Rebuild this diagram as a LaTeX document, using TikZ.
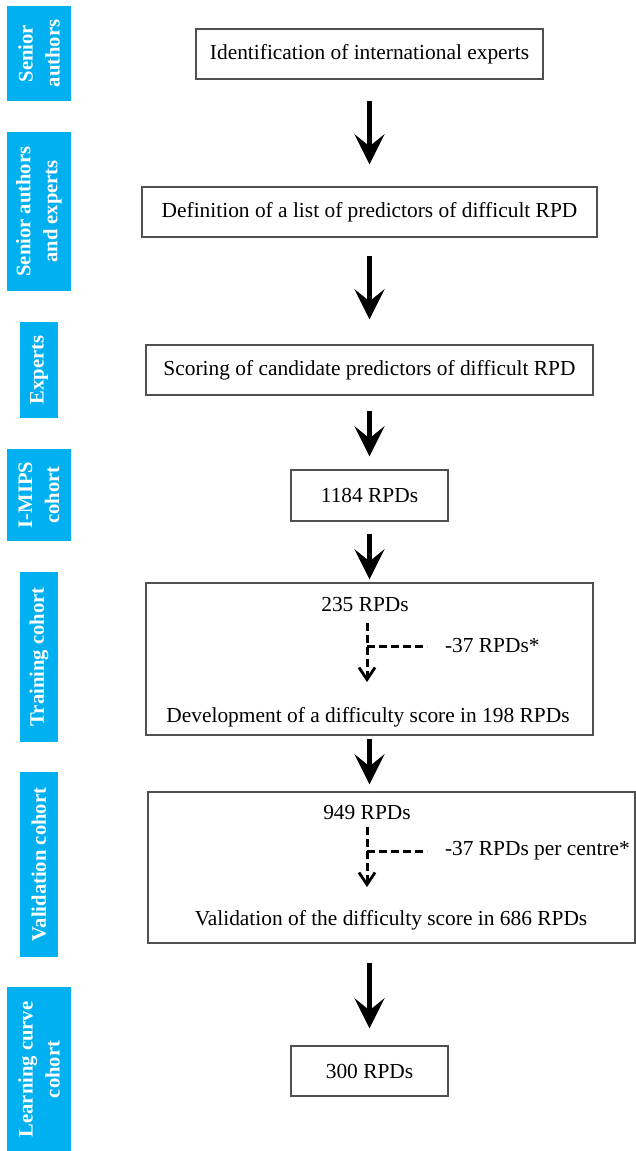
\documentclass[tikz,border=0pt]{standalone}
\usepackage{fontspec}
\setmainfont{Liberation Serif}
\usetikzlibrary{arrows.meta}

\definecolor{stageblue}{RGB}{0,176,240}
\definecolor{framegray}{RGB}{80,80,80}

\begin{document}
\begin{tikzpicture}[%
          x=0.5pt, y=-0.5pt,
          every node/.style={font=\fontsize{10.7}{13}\selectfont},
          stagebox/.style={draw=framegray, line width=0.7pt, inner sep=0pt},
          grouplabel/.style={fill=stageblue, text=white, rotate=90, inner sep=0pt,
                             align=center, font=\fontsize{10.3}{13.5}\selectfont\bfseries},
          widelabel/.style={grouplabel, minimum height=32pt},
          thinlabel/.style={grouplabel, minimum height=19pt},
          bigarrow/.style={line width=2.5pt, -{Stealth[length=15pt,width=15pt,inset=6pt]}},
          dashline/.style={line width=1.5pt, dash pattern=on 4pt off 2pt},
          dasharrow/.style={dashline, -{Straight Barb[length=6pt,width=8pt,line width=1.4pt]}}]

  \useasboundingbox (0,0) rectangle (636,1151);

  % stage labels on the left
  \node[widelabel, minimum width=47.5pt] (senior) at (39,53.5) {Senior\\authors};
  \node[widelabel, minimum width=79.5pt] (seniorexp) at (39,211.5) {Senior authors\\and experts};
  \node[thinlabel, minimum width=48pt] (experts) at (39,370) {Experts};
  \node[widelabel, minimum width=46pt] (imips) at (39,495) {I-MIPS\\cohort};
  \node[thinlabel, minimum width=85pt] (training) at (39,657) {Training cohort};
  \node[thinlabel, minimum width=92.5pt] (validation) at (39,864.5) {Validation cohort};
  \node[widelabel, minimum width=82.5pt] (learning) at (39,1069.5) {Learning curve\\cohort};

  % flow boxes
  \node[stagebox, minimum width=173.5pt, minimum height=25pt] (ident) at (369.5,54)
       {Identification of international experts};
  \node[stagebox, minimum width=227.5pt, minimum height=25pt] (defin) at (369.5,212)
       {Definition of a list of predictors of difficult RPD};
  \node[stagebox, minimum width=223.5pt, minimum height=25pt] (scoring) at (369.5,370)
       {Scoring of candidate predictors of difficult RPD};
  \node[stagebox, minimum width=78.5pt, minimum height=25.5pt] (all) at (369.5,495.5) {1184 RPDs};
  \node[stagebox, minimum width=223.5pt, minimum height=76pt] (train) at (369.5,659) {};
  \node[stagebox, minimum width=243.5pt, minimum height=75.5pt] (valid) at (391.5,867.5) {};
  \node[stagebox, minimum width=78.5pt, minimum height=25pt] (curve) at (369.5,1071) {300 RPDs};

  % inside the training box
  \node (train235) at (365,605) {235 RPDs};
  \node (traindev) at (368,717) {Development of a difficulty score in 198 RPDs};
  \node[anchor=west] (trainout) at (438,646) {-37 RPDs*};
  \coordinate (traintop) at (367,623);
  \coordinate (trainfork) at (367,646);
  \coordinate (traintip) at (367,682);

  % inside the validation box
  \node (valid949) at (367,813) {949 RPDs};
  \node (validsc) at (391,920) {Validation of the difficulty score in 686 RPDs};
  \node[anchor=west] (validout) at (438,851) {-37 RPDs per centre*};
  \coordinate (validtop) at (367,827);
  \coordinate (validfork) at (367,851);
  \coordinate (validtip) at (367,887);

  \draw[bigarrow, shorten <=10.5pt, shorten >=11pt] (ident.south) -- (defin.north);
  \draw[bigarrow, shorten <=9pt, shorten >=12.5pt] (defin.south) -- (scoring.north);
  \draw[bigarrow, shorten <=7.5pt, shorten >=6.5pt] (scoring.south) -- (all.north);
  \draw[bigarrow, shorten <=6pt, shorten >=1.5pt] (all.south) -- (train.north);
  \draw[bigarrow, shorten <=1.5pt, shorten >=3.5pt] (train.south) -- (train.south |- valid.north);
  \draw[bigarrow, shorten <=9.5pt, shorten >=8.5pt] (train.south |- valid.south) -- (curve.north);

  \draw[dasharrow] (traintop) -- (traintip);
  \draw[dashline, shorten >=5.5pt] (trainfork) -- (trainout.west);
  \draw[dasharrow] (validtop) -- (validtip);
  \draw[dashline, shorten >=5.5pt] (validfork) -- (validout.west);

\end{tikzpicture}
\end{document}
